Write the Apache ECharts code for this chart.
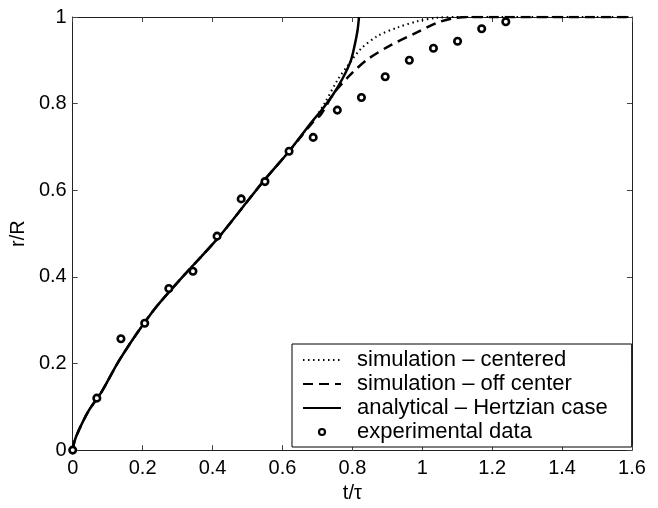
<!DOCTYPE html>
<html>
<head>
<meta charset="utf-8">
<script src="https://cdn.jsdelivr.net/npm/echarts@6/dist/echarts.min.js"></script>
<style>
  html, body { margin: 0; padding: 0; background: #fff; }
  #chart { width: 658px; height: 508px; }
</style>
</head>
<body>
<div id="chart"></div>
<script>
// t/tau values and r/R values
var analyticalT = [0, 0.005, 0.017, 0.045, 0.083, 0.13, 0.178, 0.225, 0.254, 0.32, 0.416, 0.51, 0.55, 0.619, 0.682, 0.71, 0.744, 0.772, 0.796, 0.808, 0.815, 0.819];
var analyticalR = [0, 0.02, 0.045, 0.09, 0.135, 0.203, 0.263, 0.316, 0.345, 0.405, 0.49, 0.585, 0.625, 0.69, 0.756, 0.783, 0.82, 0.858, 0.9, 0.94, 0.97, 1.0];

var centeredT = [0, 0.005, 0.017, 0.045, 0.083, 0.13, 0.178, 0.225, 0.254, 0.32, 0.416, 0.51, 0.55, 0.619, 0.69, 0.72, 0.758, 0.786, 0.824, 0.872, 0.93, 0.986, 1.04, 1.1, 1.6];
var centeredR = [0, 0.02, 0.045, 0.09, 0.135, 0.203, 0.263, 0.316, 0.345, 0.405, 0.49, 0.585, 0.625, 0.69, 0.763, 0.80, 0.855, 0.887, 0.926, 0.956, 0.976, 0.99, 0.998, 1.0, 1.0];

var offCenterT = [0, 0.005, 0.017, 0.045, 0.083, 0.13, 0.178, 0.225, 0.254, 0.32, 0.416, 0.51, 0.55, 0.619, 0.69, 0.71, 0.748, 0.796, 0.843, 0.91, 0.986, 1.04, 1.09, 1.13, 1.6];
var offCenterR = [0, 0.02, 0.045, 0.09, 0.135, 0.203, 0.263, 0.316, 0.345, 0.405, 0.49, 0.585, 0.625, 0.69, 0.76, 0.775, 0.825, 0.868, 0.902, 0.935, 0.965, 0.986, 0.997, 1.0, 1.0];

var expT = [0, 0.069, 0.138, 0.206, 0.275, 0.344, 0.413, 0.482, 0.55, 0.619, 0.688, 0.757, 0.826, 0.894, 0.963, 1.032, 1.101, 1.17, 1.239];
var expR = [0, 0.12, 0.257, 0.293, 0.373, 0.413, 0.494, 0.58, 0.62, 0.69, 0.722, 0.785, 0.814, 0.862, 0.9, 0.928, 0.944, 0.973, 0.989];

var names = ['simulation \u2013 centered', 'simulation \u2013 off center', 'analytical \u2013 Hertzian case', 'experimental data'];

function pairs(xs, ys) {
  return xs.map(function (x, i) { return [x, ys[i]]; });
}

var font = 'Liberation Sans, Arial, Helvetica, sans-serif';

var myChart = echarts.init(document.getElementById('chart'));

var tickStyle = { show: true, inside: true, length: 5, lineStyle: { color: '#444', width: 1 } };
var lineAxis = { show: true, onZero: false, lineStyle: { color: '#222', width: 1 } };
var hiddenDot = { color: '#000', opacity: 0 };

var option = {
  animation: false,
  backgroundColor: '#fff',
  grid: {
    left: 71,
    right: 26,
    top: 17,
    bottom: 48
  },
  legend: {
    orient: 'vertical',
    left: 292,
    top: 344,
    itemWidth: 38,
    itemHeight: 6,
    itemGap: 0,
    padding: [4, 24, 3, 10],
    borderColor: '#000',
    borderWidth: 1,
    backgroundColor: '#fff',
    textStyle: {
      fontFamily: font,
      fontSize: 22,
      lineHeight: 24,
      color: '#000',
      padding: [0, 0, 0, 11]
    },
    data: [
      names[0],
      names[1],
      names[2],
      { name: names[3], itemStyle: { color: '#fff', borderColor: '#000', borderWidth: 2.2, opacity: 1 } }
    ]
  },
  xAxis: [
    {
      type: 'value',
      min: 0,
      max: 1.6,
      interval: 0.2,
      name: 't/\u03c4',
      nameLocation: 'middle',
      nameGap: 31,
      nameTextStyle: { fontFamily: font, fontSize: 20, color: '#000' },
      axisLine: lineAxis,
      axisTick: tickStyle,
      axisLabel: { fontFamily: font, fontSize: 20, color: '#000', margin: 8 },
      splitLine: { show: false }
    },
    {
      type: 'value',
      position: 'top',
      min: 0,
      max: 1.6,
      interval: 0.2,
      axisLine: lineAxis,
      axisTick: tickStyle,
      axisLabel: { show: false },
      splitLine: { show: false }
    }
  ],
  yAxis: [
    {
      type: 'value',
      min: 0,
      max: 1,
      interval: 0.2,
      name: 'r/R',
      nameLocation: 'middle',
      nameGap: 35,
      nameTextStyle: { fontFamily: font, fontSize: 20, color: '#000' },
      axisLine: lineAxis,
      axisTick: tickStyle,
      axisLabel: { fontFamily: font, fontSize: 20, color: '#000', margin: 6 },
      splitLine: { show: false }
    },
    {
      type: 'value',
      position: 'right',
      min: 0,
      max: 1,
      interval: 0.2,
      axisLine: lineAxis,
      axisTick: tickStyle,
      axisLabel: { show: false },
      splitLine: { show: false }
    }
  ],
  series: [
    {
      name: names[0],
      type: 'line',
      symbol: 'none',
      smooth: 0.3,
      itemStyle: hiddenDot,
      lineStyle: { color: '#000', width: 2, type: [1.5, 3.5] },
      data: pairs(centeredT, centeredR)
    },
    {
      name: names[1],
      type: 'line',
      symbol: 'none',
      smooth: 0.3,
      itemStyle: hiddenDot,
      lineStyle: { color: '#000', width: 2.5, type: [10, 6] },
      data: pairs(offCenterT, offCenterR)
    },
    {
      name: names[2],
      type: 'line',
      symbol: 'none',
      smooth: 0.3,
      itemStyle: hiddenDot,
      lineStyle: { color: '#000', width: 2.5 },
      data: pairs(analyticalT, analyticalR)
    },
    {
      name: names[3],
      type: 'scatter',
      symbol: 'circle',
      symbolSize: 6.5,
      itemStyle: { color: '#fff', borderColor: '#000', borderWidth: 2.6, opacity: 1 },
      data: pairs(expT, expR),
      z: 5
    }
  ]
};
myChart.setOption(option);
</script>
</body>
</html>
